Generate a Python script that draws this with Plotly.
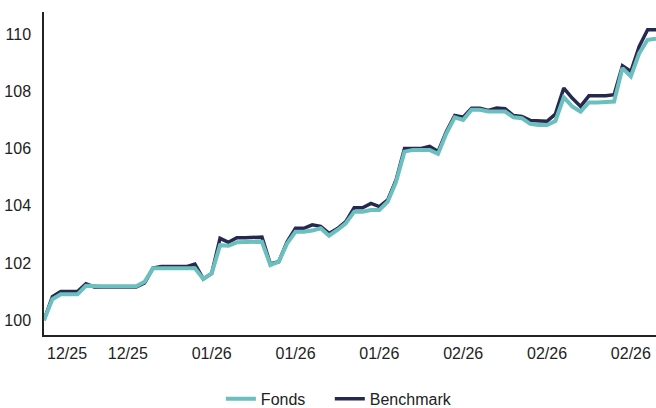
import pandas as pd
import plotly.graph_objects as go

# ---- data ----
dates = pd.date_range("2025-12-17", periods=74, freq="D")

fonds = [
    100.00, 100.73, 100.90, 100.90, 100.90, 101.20, 101.18, 101.18, 101.18, 101.18,
    101.18, 101.18, 101.34, 101.81, 101.81, 101.81, 101.81, 101.81, 101.81, 101.44,
    101.63, 102.62, 102.60, 102.72, 102.72, 102.72, 102.74, 101.92, 102.04, 102.68,
    103.09, 103.09, 103.13, 103.21, 102.95, 103.15, 103.38, 103.79, 103.79, 103.85,
    103.85, 104.14, 104.84, 105.89, 105.95, 105.95, 105.95, 105.81, 106.53, 107.09,
    107.00, 107.35, 107.35, 107.29, 107.29, 107.29, 107.09, 107.06, 106.86, 106.82,
    106.82, 106.96, 107.79, 107.47, 107.29, 107.61, 107.61, 107.61, 107.64, 108.81,
    108.52, 109.33, 109.80, 109.84,
]

benchmark = [
    100.00, 100.82, 101.00, 101.00, 101.00, 101.27, 101.16, 101.16, 101.16, 101.16,
    101.16, 101.16, 101.30, 101.82, 101.87, 101.87, 101.87, 101.87, 101.96, 101.44,
    101.63, 102.86, 102.72, 102.88, 102.88, 102.88, 102.90, 101.96, 102.04, 102.74,
    103.21, 103.21, 103.33, 103.28, 103.03, 103.20, 103.44, 103.93, 103.93, 104.08,
    103.97, 104.20, 104.90, 106.00, 106.00, 106.00, 106.07, 105.89, 106.59, 107.15,
    107.09, 107.41, 107.41, 107.33, 107.41, 107.39, 107.15, 107.12, 106.98, 106.98,
    106.95, 107.20, 108.11, 107.76, 107.47, 107.84, 107.84, 107.84, 107.88, 108.89,
    108.69, 109.57, 110.15, 110.15,
]

tick_index = [0, 10, 20, 30, 40, 50, 60, 70]
y_ticks = [100, 102, 104, 106, 108, 110]

# ---- style ----
TEAL = "#6cbfbf"
NAVY = "#25284f"
TXT = "#222222"
FONT = "Liberation Sans, Arial, sans-serif"

tick_dates = [dates[i] for i in tick_index]
tick_text = [d.strftime("%m/%y") for d in tick_dates]
# first label kept inside the plot area (left-aligned to the axis start)
tick_pos = list(tick_dates)
tick_pos[0] = tick_pos[0] + pd.Timedelta(hours=66)

fig = go.Figure()
fig.add_trace(go.Scatter(
    x=dates, y=benchmark, mode="lines", name="Benchmark",
    line=dict(color=NAVY, width=3.5), legend="legend2",
))
fig.add_trace(go.Scatter(
    x=dates, y=fonds, mode="lines", name="Fonds",
    line=dict(color=TEAL, width=4), legend="legend",
))

legend_style = dict(orientation="h", xanchor="left", y=-0.198, yanchor="middle",
                    font=dict(size=16, color=TXT), bgcolor="rgba(0,0,0,0)")

fig.update_layout(
    width=656, height=408,
    margin=dict(l=44, r=0, t=12, b=73, autoexpand=False),
    paper_bgcolor="white", plot_bgcolor="white",
    font=dict(family=FONT, size=16, color=TXT),
    showlegend=True,
    legend=dict(x=0.289, **legend_style),
    legend2=dict(x=0.467, **legend_style),
)
fig.update_xaxes(
    range=[dates[0], dates[-1]],
    tickmode="array", tickvals=tick_pos, ticktext=tick_text,
    showgrid=False, zeroline=False,
    showline=True, linecolor=TXT, linewidth=1.5,
    ticks="", ticklabelstandoff=3,
)
fig.update_yaxes(
    range=[99.48, 110.77],
    tickmode="array", tickvals=y_ticks,
    showgrid=False, zeroline=False,
    showline=True, linecolor=TXT, linewidth=1.5,
    ticks="", ticklabelstandoff=8,
)

# remove the default page margin / overflow so the 656x408 figure fills the window exactly
post = (
    "document.documentElement.style.margin='0';"
    "document.documentElement.style.overflow='hidden';"
    "document.body.style.margin='0';"
    "document.body.style.overflow='hidden';"
    "var g=document.querySelector('.plotly-graph-div');"
    "if(g&&g.parentElement){g.parentElement.style.height='408px';"
    "g.parentElement.style.overflow='hidden';}"
)
fig.write_html("out.html", config={"displayModeBar": False}, post_script=post)
